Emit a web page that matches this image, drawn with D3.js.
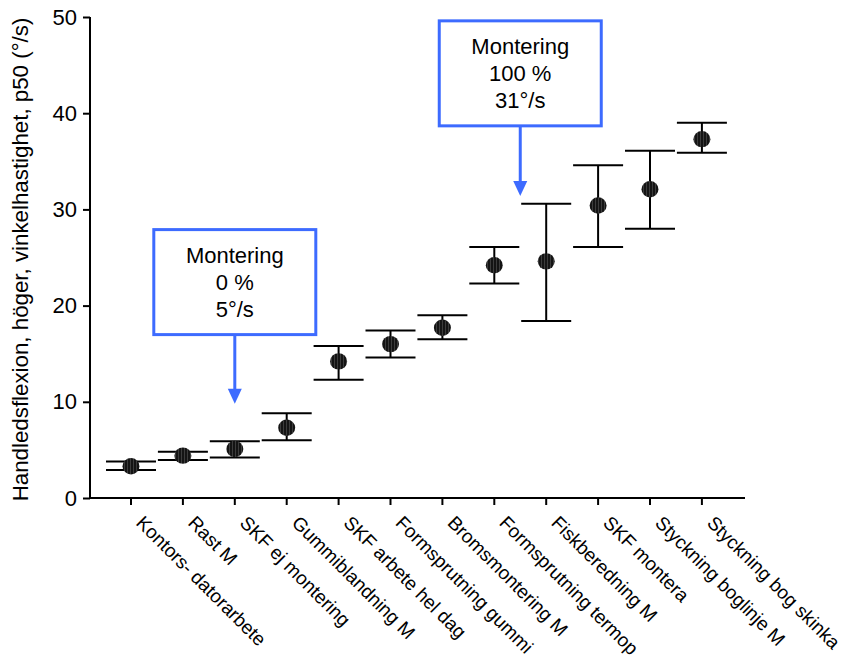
<!DOCTYPE html>
<html>
<head>
<meta charset="utf-8">
<script src="https://cdn.jsdelivr.net/npm/d3@7"></script>
<style>
  body { margin: 0; background: #fff; }
  text { font-family: Arial, "Liberation Sans", sans-serif; fill: #000; }
</style>
</head>
<body>
<svg id="chart" width="847" height="662"></svg>
<script>
const categories = [
  'Kontors- datorarbete', 'Rast M', 'SKF ej montering', 'Gummiblandning M',
  'SKF arbete hel dag', 'Formsprutning gummi', 'Bromsmontering M', 'Formsprutning termop',
  'Fiskberedning M', 'SKF montera', 'Styckning boglinje M', 'Styckning bog skinka'
];
const medians = [3.3, 4.4, 5.1, 7.3, 14.2, 16.0, 17.7, 24.2, 24.6, 30.4, 32.1, 37.3];
const upper = [3.8, 4.8, 5.9, 8.8, 15.8, 17.4, 19.0, 26.1, 30.6, 34.6, 36.1, 39.0];
const lower = [2.9, 3.95, 4.2, 6.0, 12.3, 14.6, 16.5, 22.3, 18.4, 26.1, 28.0, 35.9];
const yTicks = [0, 10, 20, 30, 40, 50];

// annotations: arrow x as category position (fractional), tip value, box lines
const notes = [
  { pos: 2, tip: 9.8, boxTop: 27.9, lines: ['Montering', '0 %', '5°/s'] },
  { pos: 7.5, tip: 31.4, boxTop: 49.6, lines: ['Montering', '100 %', '31°/s'] }
];

const svg = d3.select('#chart');
const margin = { left: 90, top: 17, bottom: 164 };
const height = 662;

const y = d3.scaleLinear().domain([0, 50]).range([height - margin.bottom, margin.top]);
const step = 51.9;
const xPos = i => 131 + i * step;

const defs = svg.append('defs');
const pat = defs.append('pattern')
  .attr('id', 'hatch')
  .attr('patternUnits', 'userSpaceOnUse')
  .attr('width', 3).attr('height', 3);
pat.append('rect').attr('width', 3).attr('height', 3).attr('fill', '#141414');
pat.append('line').attr('x1', 1.5).attr('x2', 1.5).attr('y1', 0).attr('y2', 3)
  .attr('stroke', '#3c3c3c').attr('stroke-width', 1);

// y axis
const yAxis = svg.append('g')
  .attr('transform', `translate(${margin.left},0)`)
  .call(d3.axisLeft(y).tickValues(yTicks).tickSize(7).tickPadding(6));
yAxis.select('.domain').attr('d', `M-0,${y(50)}V${y(0)}`).attr('stroke-width', 2);
yAxis.selectAll('.tick line').attr('stroke-width', 2);
yAxis.selectAll('.tick text').style('font-size', '22px').style('font-family', 'Arial, "Liberation Sans", sans-serif');

// x axis
const xEnd = 745;
const xg = svg.append('g');
xg.append('line')
  .attr('x1', margin.left - 1).attr('x2', xEnd)
  .attr('y1', y(0)).attr('y2', y(0))
  .attr('stroke', '#000').attr('stroke-width', 2);
xg.selectAll('line.tick')
  .data(categories)
  .join('line')
  .attr('class', 'tick')
  .attr('x1', (d, i) => xPos(i)).attr('x2', (d, i) => xPos(i))
  .attr('y1', y(0)).attr('y2', y(0) + 7)
  .attr('stroke', '#000').attr('stroke-width', 2);
xg.selectAll('text')
  .data(categories)
  .join('text')
  .attr('transform', (d, i) => `translate(${xPos(i) + 4},${y(0) + 26}) rotate(45)`)
  .style('font-size', '19px')
  .text(d => d);

// y title
svg.append('text')
  .attr('transform', `translate(28,${(y(50) + y(0)) / 2 + 2}) rotate(-90)`)
  .attr('text-anchor', 'middle')
  .style('font-size', '22.3px')
  .text('Handledsflexion, höger, vinkelhastighet, p50 (°/s)');

// error bars
const bars = svg.append('g');
const half = 25;
bars.selectAll('line.v')
  .data(medians)
  .join('line')
  .attr('class', 'v')
  .attr('x1', (d, i) => xPos(i)).attr('x2', (d, i) => xPos(i))
  .attr('y1', (d, i) => y(upper[i])).attr('y2', (d, i) => y(lower[i]))
  .attr('stroke', '#000').attr('stroke-width', 2);
bars.selectAll('line.up')
  .data(upper)
  .join('line')
  .attr('class', 'up')
  .attr('x1', (d, i) => xPos(i) - half).attr('x2', (d, i) => xPos(i) + half)
  .attr('y1', d => y(d)).attr('y2', d => y(d))
  .attr('stroke', '#000').attr('stroke-width', 2);
bars.selectAll('line.lo')
  .data(lower)
  .join('line')
  .attr('class', 'lo')
  .attr('x1', (d, i) => xPos(i) - half).attr('x2', (d, i) => xPos(i) + half)
  .attr('y1', d => y(d)).attr('y2', d => y(d))
  .attr('stroke', '#000').attr('stroke-width', 2);
bars.selectAll('ellipse')
  .data(medians)
  .join('ellipse')
  .attr('cx', (d, i) => xPos(i))
  .attr('cy', d => y(d))
  .attr('rx', 8.5).attr('ry', 8.2)
  .attr('fill', 'url(#hatch)');

// annotations
const blue = '#3d6bff';
const boxW = 162, boxH = 105;
notes.forEach(n => {
  const cx = xPos(n.pos);
  const top = y(n.boxTop);
  const g = svg.append('g');
  g.append('rect')
    .attr('x', cx - boxW / 2).attr('y', top)
    .attr('width', boxW).attr('height', boxH)
    .attr('fill', '#fff').attr('stroke', blue).attr('stroke-width', 3);
  g.selectAll('text')
    .data(n.lines)
    .join('text')
    .attr('x', cx)
    .attr('y', (d, i) => top + 33 + i * 27)
    .attr('text-anchor', 'middle')
    .style('font-size', '22px')
    .text(d => d);
  const tipY = y(n.tip);
  g.append('line')
    .attr('x1', cx).attr('x2', cx)
    .attr('y1', top + boxH).attr('y2', tipY - 14)
    .attr('stroke', blue).attr('stroke-width', 3);
  g.append('path')
    .attr('d', `M${cx - 7},${tipY - 15}L${cx + 7},${tipY - 15}L${cx},${tipY}Z`)
    .attr('fill', blue);
});
</script>
</body>
</html>
